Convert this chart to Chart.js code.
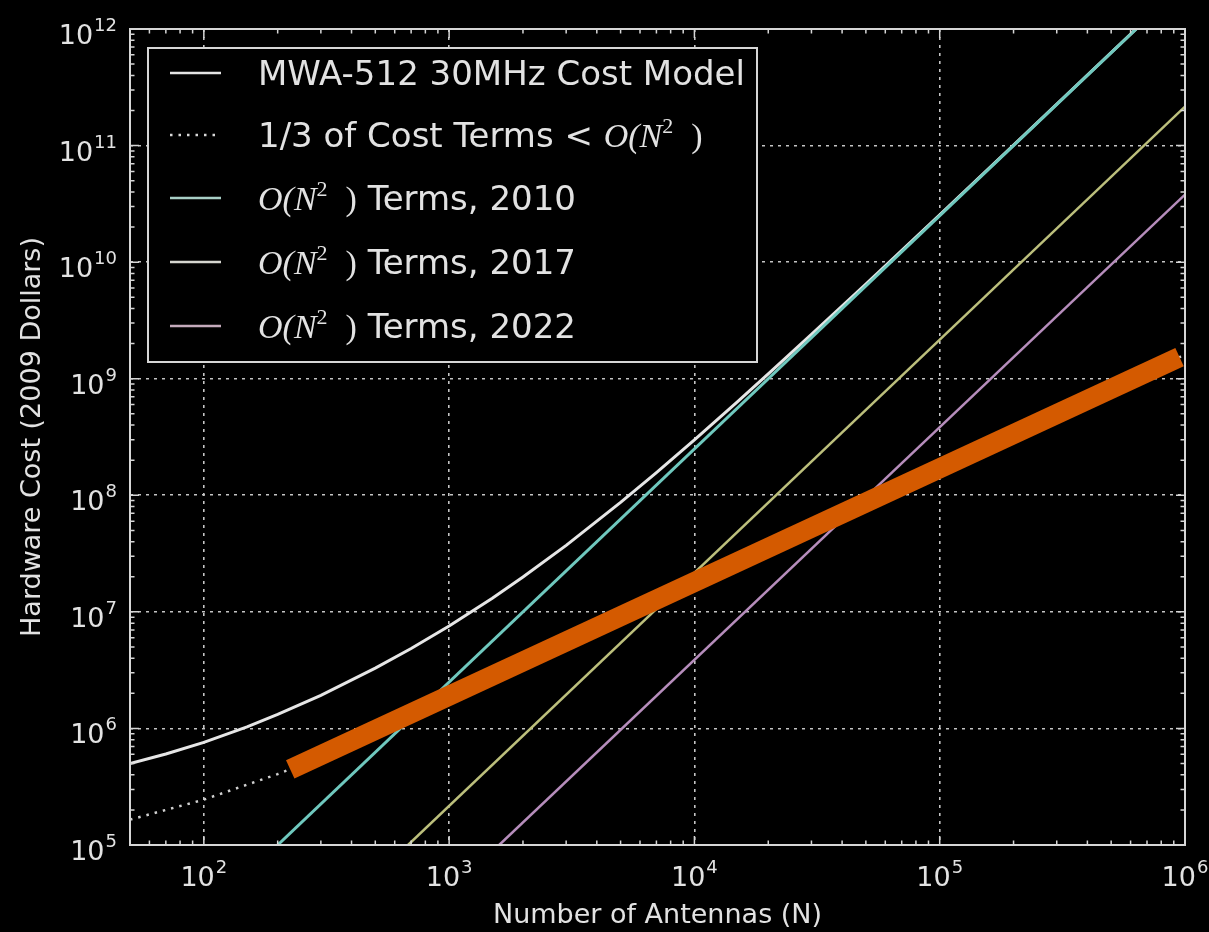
<!DOCTYPE html>
<html>
<head>
<meta charset="utf-8">
<title>Hardware cost vs. number of antennas</title>
<script src="https://cdn.jsdelivr.net/npm/chart.js@4/dist/chart.umd.min.js"></script>
<style>
  html, body { margin: 0; padding: 0; background: #000; }
  #wrap { width: 1209px; height: 932px; }
  canvas { display: block; }
</style>
</head>
<body>
<div id="wrap"><canvas id="costChart" width="1209" height="932"></canvas></div>
<script>
// ---- data -------------------------------------------------------------
// Full cost model (2009 dollars) vs number of antennas N
const modelN    = [50, 70, 100, 150, 200, 300, 500, 700, 1000, 1500, 2000, 3000, 5000, 7000,
                   10000, 15000, 20000, 30000, 50000, 100000, 200000, 400000, 640000];
const modelCost = [5.0e5, 6.03e5, 7.6e5, 1.03e6, 1.32e6, 1.92e6, 3.29e6, 4.85e6, 7.57e6, 1.31e7,
                   1.99e7, 3.72e7, 8.69e7, 1.565e8, 2.99e8, 6.35e8, 1.10e9, 2.40e9, 6.49e9,
                   2.55e10, 1.01e11, 4.02e11, 1.027e12];

// One third of the cost terms that grow slower than N^2
const subN    = [50, 100, 200, 300, 500, 1000, 2000, 10000, 100000, 1000000];
const subCost = [1.65e5, 2.45e5, 4.06e5, 5.66e5, 8.88e5, 1.69e6, 3.30e6, 1.615e7, 1.61e8, 1.61e9];

// O(N^2) terms for three hardware generations
const n2010N = [200, 1000000];   const n2010Cost = [1e5, 2.5e12];
const n2017N = [680, 1000000];   const n2017Cost = [1e5, 2.16e11];
const n2022N = [1600, 1000000];  const n2022Cost = [1e5, 3.8e10];

// Highlighted stretch of the sub-N^2 cost trend
const highlightN    = [225, 950000];
const highlightCost = [4.46e5, 1.53e9];

// Axis decades (tick exponents)
const xExponents = [2, 3, 4, 5, 6];
const yExponents = [5, 6, 7, 8, 9, 10, 11, 12];

const seriesLabels = ['MWA-512 30MHz Cost Model', '1/3 of Cost Terms < O(N²)',
                      'O(N²) Terms, 2010', 'O(N²) Terms, 2017', 'O(N²) Terms, 2022'];

const xTitle = 'Number of Antennas (N)';
const yTitle = 'Hardware Cost (2009 Dollars)';

// ---- helpers ----------------------------------------------------------
const pts = (xs, ys) => xs.map((x, i) => ({ x: x, y: ys[i] }));
const SANS = '"DejaVu Sans", "Liberation Sans", sans-serif';
const SERIF = '"Liberation Serif", "DejaVu Serif", serif';
const FG = '#e2e2e2';
const FRAME = '#d6d6d6';

function decadeTicks(exps) {
  return exps.map(e => ({ value: Math.pow(10, e), major: true }));
}

// Draws "10" with a superscript exponent
function drawPower(ctx, exp, x, baseline, align) {
  ctx.font = '27px ' + SANS;
  const wb = ctx.measureText('10').width;
  ctx.font = '18px ' + SANS;
  const ws = ctx.measureText(String(exp)).width;
  const total = wb + ws + 1;
  const x0 = align === 'center' ? x - total / 2 : x - total;
  ctx.textAlign = 'left';
  ctx.textBaseline = 'alphabetic';
  ctx.font = '27px ' + SANS;
  ctx.fillText('10', x0, baseline);
  ctx.font = '18px ' + SANS;
  ctx.fillText(String(exp), x0 + wb + 1, baseline - 13);
}

// Math-style "O(N^2 )" fragment; returns x after it
function drawBigO(ctx, x, baseline) {
  ctx.textAlign = 'left';
  ctx.textBaseline = 'alphabetic';
  ctx.font = 'italic 34px ' + SERIF;
  ctx.fillText('O(N', x, baseline);
  x += ctx.measureText('O(N').width;
  ctx.font = '22px ' + SERIF;
  ctx.fillText('2', x, baseline - 14);
  x += ctx.measureText('2').width + 18;
  ctx.font = '34px ' + SERIF;
  ctx.fillText(')', x, baseline);
  return x + ctx.measureText(')').width;
}

// ---- decorations: frame, ticks, labels, legend ------------------------
const decorations = {
  id: 'decorations',
  beforeDraw(chart) {
    const ctx = chart.ctx;
    ctx.save();
    ctx.fillStyle = '#000';
    ctx.fillRect(0, 0, chart.width, chart.height);
    ctx.restore();
  },
  afterDatasetsDraw(chart) {
    const ctx = chart.ctx;
    const a = chart.chartArea;
    const xs = chart.scales.x, ys = chart.scales.y;
    ctx.save();

    // frame
    ctx.strokeStyle = FRAME;
    ctx.lineWidth = 2;
    ctx.setLineDash([]);
    ctx.strokeRect(a.left, a.top, a.right - a.left, a.bottom - a.top);

    // major + minor ticks on all four sides, pointing inward
    ctx.lineWidth = 1.5;
    ctx.beginPath();
    const tickX = (v, len) => {
      const p = xs.getPixelForValue(v);
      ctx.moveTo(p, a.bottom); ctx.lineTo(p, a.bottom - len);
      ctx.moveTo(p, a.top);    ctx.lineTo(p, a.top + len);
    };
    const tickY = (v, len) => {
      const p = ys.getPixelForValue(v);
      ctx.moveTo(a.left, p);  ctx.lineTo(a.left + len, p);
      ctx.moveTo(a.right, p); ctx.lineTo(a.right - len, p);
    };
    for (let e = 1; e <= 6; e++) {
      for (let k = 1; k <= 9; k++) {
        const v = k * Math.pow(10, e);
        if (v < xs.min || v > xs.max) continue;
        tickX(v, k === 1 ? 9 : 4.5);
      }
    }
    for (let e = 5; e <= 12; e++) {
      for (let k = 1; k <= 9; k++) {
        const v = k * Math.pow(10, e);
        if (v < ys.min || v > ys.max) continue;
        tickY(v, k === 1 ? 9 : 4.5);
      }
    }
    ctx.stroke();

    // tick labels
    ctx.fillStyle = FG;
    xExponents.forEach(e => drawPower(ctx, e, xs.getPixelForValue(Math.pow(10, e)), a.bottom + 41, 'center'));
    yExponents.forEach(e => drawPower(ctx, e, a.left - 13, ys.getPixelForValue(Math.pow(10, e)) + 15, 'right'));

    // axis titles
    ctx.font = '27px ' + SANS;
    ctx.textAlign = 'center';
    ctx.textBaseline = 'alphabetic';
    ctx.fillText(xTitle, (a.left + a.right) / 2, a.bottom + 78);
    ctx.save();
    ctx.translate(40, (a.top + a.bottom) / 2);
    ctx.rotate(-Math.PI / 2);
    ctx.fillText(yTitle, 0, 0);
    ctx.restore();

    // legend
    const box = { x: 148, y: 48, w: 609, h: 314 };
    ctx.fillStyle = '#000';
    ctx.fillRect(box.x, box.y, box.w, box.h);
    ctx.strokeStyle = FRAME;
    ctx.lineWidth = 2;
    ctx.strokeRect(box.x, box.y, box.w, box.h);

    const rows = [
      { y: 73,  color: '#e4e4e4', dash: [],       parts: [['t', 'MWA-512 30MHz Cost Model']] },
      { y: 135, color: '#d8d8d8', dash: [2.5, 6], parts: [['t', '1/3 of Cost Terms < '], ['m']] },
      { y: 198, color: '#a8cfc6', dash: [],       parts: [['m'], ['t', ' Terms, 2010']] },
      { y: 262, color: '#d6d6d0', dash: [],       parts: [['m'], ['t', ' Terms, 2017']] },
      { y: 326, color: '#c4aabb', dash: [],       parts: [['m'], ['t', ' Terms, 2022']] }
    ];
    rows.forEach(r => {
      ctx.strokeStyle = r.color;
      ctx.lineWidth = 2.5;
      ctx.setLineDash(r.dash);
      ctx.beginPath();
      ctx.moveTo(170, r.y); ctx.lineTo(221, r.y);
      ctx.stroke();
      ctx.setLineDash([]);
      let x = 258;
      const base = r.y + 12;
      ctx.fillStyle = FG;
      r.parts.forEach(p => {
        if (p[0] === 'm') {
          x = drawBigO(ctx, x, base);
        } else {
          ctx.font = '34px ' + SANS;
          ctx.textAlign = 'left';
          ctx.textBaseline = 'alphabetic';
          ctx.fillText(p[1], x, base);
          x += ctx.measureText(p[1]).width;
        }
      });
    });

    ctx.restore();
  }
};

// ---- chart ------------------------------------------------------------
// lower "order" is painted later (on top)
const lineDefaults = { pointRadius: 0, tension: 0, fill: false, clip: 0 };

new Chart(document.getElementById('costChart'), {
  type: 'line',
  data: {
    datasets: [
      Object.assign({ label: seriesLabels[0], data: pts(modelN, modelCost), order: 6,
        borderColor: '#e6e6e6', borderWidth: 3 }, lineDefaults),
      Object.assign({ label: seriesLabels[1], data: pts(subN, subCost), order: 5,
        borderColor: '#d0d0d0', borderWidth: 2.5, borderDash: [2.5, 6] }, lineDefaults),
      Object.assign({ label: seriesLabels[2], data: pts(n2010N, n2010Cost), order: 4,
        borderColor: '#6fc8be', borderWidth: 3 }, lineDefaults),
      Object.assign({ label: seriesLabels[3], data: pts(n2017N, n2017Cost), order: 3,
        borderColor: '#bcbf7c', borderWidth: 2.5 }, lineDefaults),
      Object.assign({ label: seriesLabels[4], data: pts(n2022N, n2022Cost), order: 2,
        borderColor: '#b68dbc', borderWidth: 2.5 }, lineDefaults),
      Object.assign({ label: 'trend', data: pts(highlightN, highlightCost), order: 1,
        borderColor: '#d45a00', borderWidth: 20, borderCapStyle: 'butt' }, lineDefaults)
    ]
  },
  options: {
    responsive: false,
    animation: false,
    events: [],
    layout: { padding: { left: 130, top: 29, right: 24, bottom: 87 } },
    plugins: { legend: { display: false }, tooltip: { enabled: false } },
    scales: {
      x: {
        type: 'logarithmic', min: 50, max: 1e6,
        afterBuildTicks: s => { s.ticks = decadeTicks(xExponents); },
        ticks: { display: false },
        grid: { color: '#c4c4c4', lineWidth: 1.6, drawTicks: false },
        border: { display: false, dash: [3, 5] },
        title: { display: false }
      },
      y: {
        type: 'logarithmic', min: 1e5, max: 1e12,
        afterBuildTicks: s => { s.ticks = decadeTicks(yExponents); },
        ticks: { display: false },
        grid: { color: '#c4c4c4', lineWidth: 1.6, drawTicks: false },
        border: { display: false, dash: [3, 5] },
        title: { display: false }
      }
    }
  },
  plugins: [decorations]
});
</script>
</body>
</html>
